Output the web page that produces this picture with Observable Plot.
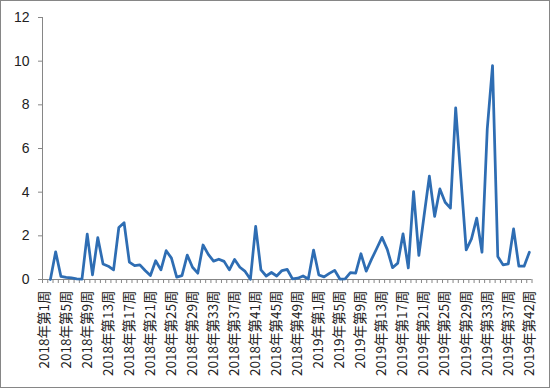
<!DOCTYPE html>
<html><head><meta charset="utf-8">
<script src="https://cdn.jsdelivr.net/npm/d3@7"></script>
<script src="https://cdn.jsdelivr.net/npm/@observablehq/plot@0.6"></script>
<style>
body{margin:0;background:#fff}
#chart svg{display:block;outline:1px solid #868686;outline-offset:-1px}
</style></head><body><div id="chart"></div>
<script>
// categories (weeks)
const weeks2018 = [1,2,3,4,5,6,7,8,9,10,11,12,13,14,15,16,17,18,19,20,21,22,23,24,25,26,27,28,29,30,31,32,33,34,35,36,37,38,39,40,41,42,43,44,45,46,47,48,49,50,51,52];
const weeks2019 = [1,2,3,4,5,6,7,8,9,10,11,12,13,14,15,16,17,18,19,20,21,22,23,24,25,26,27,28,29,30,31,32,33,34,35,36,37,38,39,40,42];
// series values (first week has no value)
const values = [null,
  0, 1.27, 0.14, 0.1, 0.07, 0.03, 0.02, 2.08, 0.21, 1.92,
  0.71, 0.61, 0.44, 2.38, 2.6, 0.8, 0.64, 0.67, 0.41, 0.18,
  0.86, 0.44, 1.32, 0.98, 0.11, 0.18, 1.12, 0.56, 0.29, 1.58,
  1.15, 0.84, 0.93, 0.83, 0.44, 0.92, 0.56, 0.37, 0.01, 2.43,
  0.44, 0.16, 0.32, 0.16, 0.41, 0.46, 0.03, 0.06, 0.16, 0.02,
  1.35, 0.21, 0.12, 0.28, 0.42, 0.02, 0.03, 0.32, 0.29, 1.18,
  0.38, 0.92, 1.42, 1.93, 1.38, 0.54, 0.75, 2.09, 0.53, 4.03,
  1.1, 2.93, 4.73, 2.89, 4.15, 3.54, 3.27, 7.86, 4.6, 1.36,
  1.86, 2.81, 1.25, 6.9, 9.8, 1.05, 0.67, 0.72, 2.32, 0.61,
  0.61, 1.25];
const yTicks = [0, 2, 4, 6, 8, 10, 12];
const labelStep = 4;

const categories = [
  ...weeks2018.map(w => `2018年第${w}周`),
  ...weeks2019.map(w => `2019年第${w}周`)
];
const data = categories.map((c, i) => ({i, c, v: values[i]}));
const n = categories.length;
const boundaries = d3.range(n + 1).map(k => k - 0.5);
const labelIdx = d3.range(0, n, labelStep);

const axisColor = "#868686";
const chart = Plot.plot({
  width: 550, height: 388,
  marginLeft: 42, marginRight: 18.5, marginTop: 17, marginBottom: 109,
  x: {type: "linear", domain: [-0.5, n - 0.5], axis: null},
  y: {domain: [0, 12], axis: null},
  marks: [
    Plot.ruleY([0], {stroke: axisColor}),
    Plot.ruleX([-0.5], {stroke: axisColor}),
    Plot.axisY({ticks: yTicks, tickSize: 4, tickPadding: 9, stroke: axisColor, fill: "#222",
      fontSize: 14, fontFamily: "Liberation Sans", label: null}),
    Plot.axisX({ticks: boundaries, tickSize: 4, stroke: axisColor, fill: "none", label: null}),
    Plot.axisX({ticks: labelIdx, tickSize: 0, tickPadding: 11, tickRotate: -90,
      tickFormat: i => categories[i], fill: "#222",
      fontSize: 13.5, fontFamily: "Noto Sans CJK SC", label: null}),
    Plot.line(data, {x: "i", y: "v", stroke: "#2e6db3", strokeWidth: 2.75,
      strokeLinejoin: "round", strokeLinecap: "round"})
  ]
});
document.getElementById("chart").appendChild(chart);
</script></body></html>
